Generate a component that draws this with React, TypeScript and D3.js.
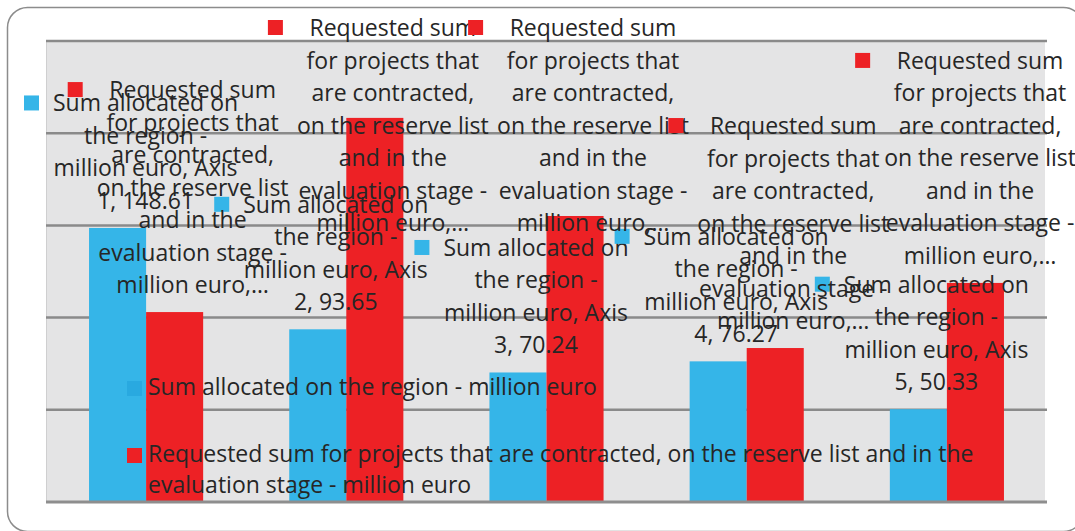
import React, { useEffect, useRef } from "react";
import * as d3 from "d3";

// Categories and series values (million euro)
const categories = ["Axis 1", "Axis 2", "Axis 3", "Axis 4", "Axis 5"];
const allocated = [148.61, 93.65, 70.24, 76.27, 50.33];
const requested = [103.0, 208.3, 155.1, 83.5, 118.8];
const yTicks = [0, 50, 100, 150, 200, 250];

const seriesNames = [
  "Sum allocated on the region - million euro",
  "Requested sum for projects that are contracted, on the reserve list and in the evaluation stage - million euro",
];

// data label text, wrapped as in the original
const allocatedLabelLines = ["Sum allocated on", "the region -", "million euro, Axis"];
const requestedLabelLines = [
  "Requested sum",
  "for projects that",
  "are contracted,",
  "on the reserve list",
  "and in the",
  "evaluation stage -",
  "million euro,…",
];
const legendLines = [
  ["Sum allocated on the region - million euro"],
  ["Requested sum for projects that are contracted, on the reserve list and in the", "evaluation stage - million euro"],
];

const BLUE = "#35b5e8";
const RED = "#ed2125";
const TEXT = "#262626";
const FONT = "'Open Sans', sans-serif";
const FONT_SIZE = 23;

const App = () => {
  const ref = useRef<SVGSVGElement>(null);

  useEffect(() => {
    const plotLeft = 46;
    const plotRight = 1047;
    const plotTop = 41;
    const plotBottom = 502;
    const lineHeight = 32.5;

    const svg = d3.select(ref.current);
    svg.selectAll("*").remove();

    const x = d3
      .scaleBand()
      .domain(categories)
      .range([plotLeft, plotRight])
      .paddingInner(0.43)
      .paddingOuter(0.215);
    const xs = d3.scaleBand().domain(["a", "r"]).range([0, x.bandwidth()]);
    const y = d3.scaleLinear().domain([0, 250]).range([plotBottom, plotTop]);

    // outer chart frame (right edge runs off the picture)
    svg
      .append("rect")
      .attr("x", 7.5)
      .attr("y", 7.5)
      .attr("width", 1076)
      .attr("height", 524)
      .attr("rx", 20)
      .attr("fill", "#fff")
      .attr("stroke", "#8c8c8c")
      .attr("stroke-width", 1.5);

    // plot area
    svg
      .append("rect")
      .attr("x", plotLeft)
      .attr("y", plotTop)
      .attr("width", plotRight - 2 - plotLeft)
      .attr("height", plotBottom - plotTop)
      .attr("fill", "#e4e4e5");
    svg
      .append("line")
      .attr("x1", plotLeft + 0.5)
      .attr("x2", plotLeft + 0.5)
      .attr("y1", plotTop)
      .attr("y2", plotBottom)
      .attr("stroke", "#cfcfd0")
      .attr("stroke-width", 1);

    // gridlines
    svg
      .append("g")
      .selectAll("line")
      .data(yTicks.slice(1))
      .join("line")
      .attr("x1", plotLeft)
      .attr("x2", plotRight)
      .attr("y1", (d) => y(d))
      .attr("y2", (d) => y(d))
      .attr("stroke", "#8a8a8a")
      .attr("stroke-width", 2.5);

    const series = [
      { key: "a", values: allocated, color: BLUE },
      { key: "r", values: requested, color: RED },
    ];

    // bars
    series.forEach((s) => {
      svg
        .append("g")
        .attr("fill", s.color)
        .selectAll("rect")
        .data(s.values)
        .join("rect")
        .attr("x", (d, i) => x(categories[i])! + xs(s.key)!)
        .attr("y", (d) => y(d))
        .attr("width", xs.bandwidth())
        .attr("height", (d) => y(0) - y(d));
    });

    // category axis line
    svg
      .append("line")
      .attr("x1", plotLeft)
      .attr("x2", plotRight)
      .attr("y1", y(0))
      .attr("y2", y(0))
      .attr("stroke", "#8e8e8e")
      .attr("stroke-width", 3);

    // data labels with legend keys
    const labels = svg
      .append("g")
      .attr("font-family", FONT)
      .attr("font-size", FONT_SIZE)
      .attr("fill", TEXT);

    series.forEach((s) => {
      s.values.forEach((v, i) => {
        const lines =
          s.key === "a"
            ? [...allocatedLabelLines, `${categories[i].replace("Axis ", "")}, ${v.toFixed(2)}`]
            : requestedLabelLines;
        const g = labels.append("g");
        const texts = lines.map((t) => g.append("text").attr("text-anchor", "middle").text(t));
        const w = d3.max(texts, (t) => (t.node() as SVGTextElement).getComputedTextLength()) || 0;

        const cx = x(categories[i])! + xs(s.key)! + xs.bandwidth() / 2;
        let tx = cx + 18;
        // keep inside chart area
        if (tx - w / 2 - 29 < 24) tx = 24 + 29 + w / 2;
        if (tx + w / 2 > 1076) tx = 1076 - w / 2;
        let first = y(v) - 19 - (lines.length - 1) * lineHeight;
        if (first < 36) first = 36;

        texts.forEach((t, j) => t.attr("x", tx).attr("y", first + j * lineHeight));
        g.append("rect")
          .attr("x", tx - w / 2 - 29)
          .attr("y", first - 16)
          .attr("width", 15)
          .attr("height", 15)
          .attr("fill", s.color);
      });
    });

    // legend
    const legend = svg
      .append("g")
      .attr("font-family", FONT)
      .attr("font-size", FONT_SIZE)
      .attr("fill", TEXT);
    const legendY = [395, 462];
    legendLines.forEach((ls, k) => {
      legend
        .append("rect")
        .attr("x", 127)
        .attr("y", legendY[k] - 14)
        .attr("width", 15)
        .attr("height", 15)
        .attr("fill", k === 0 ? "#29a9e0" : RED);
      ls.forEach((t, j) => {
        legend
          .append("text")
          .attr("x", 148)
          .attr("y", legendY[k] + j * 31)
          .text(t);
      });
    });
  }, []);

  return (
    <svg
      ref={ref}
      width={1075}
      height={531}
      style={{ position: "absolute", left: 0, top: 0, display: "block" }}
    />
  );
};

export default App;
